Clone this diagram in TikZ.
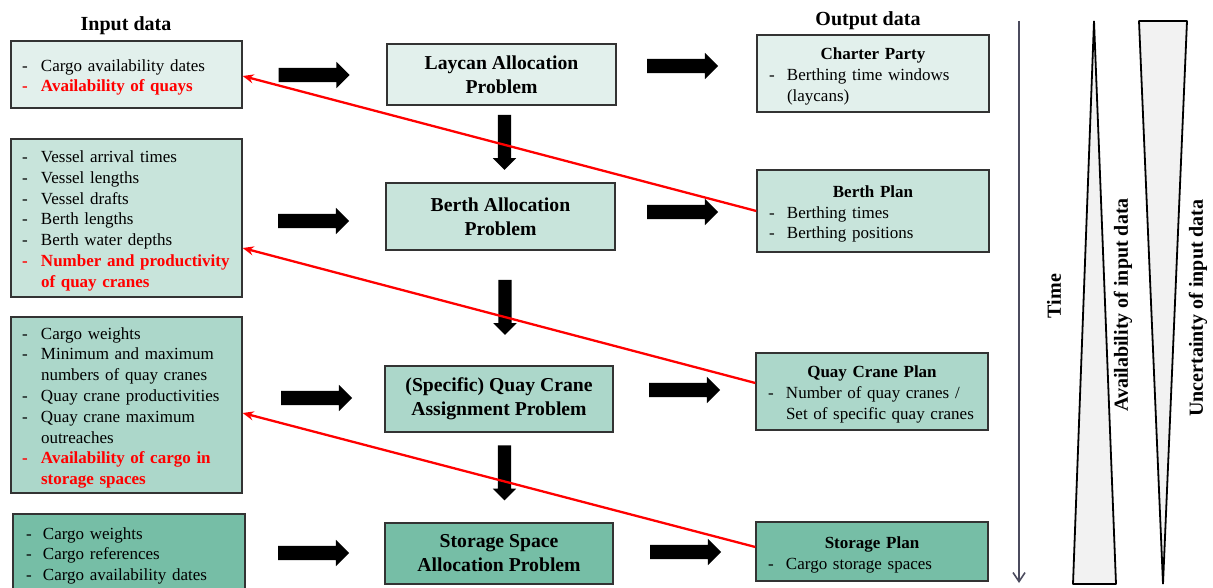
\documentclass[tikz,border=0pt]{standalone}
\usepackage{fontspec}
\setmainfont{Liberation Serif}
\usetikzlibrary{shapes.arrows,arrows.meta}
\definecolor{rowA}{HTML}{E2F0EC}
\definecolor{rowB}{HTML}{C8E4DB}
\definecolor{rowC}{HTML}{ACD7CA}
\definecolor{rowD}{HTML}{76BEA6}
\definecolor{boxline}{HTML}{333333}
\definecolor{timecol}{HTML}{4B4B5E}
\definecolor{trifill}{HTML}{F2F2F2}
\newlength{\dashw}
\setlength{\dashw}{19pt}
\newcommand{\dsh}[1]{\makebox[\dashw][l]{-}#1}
\newcommand{\cnt}[1]{\hspace*{\dashw}#1}
\newcommand{\rdsh}[1]{\textcolor{red}{\bfseries\makebox[\dashw][l]{-}#1}}
\newcommand{\rcnt}[1]{\textcolor{red}{\bfseries\hspace*{\dashw}#1}}
\tikzset{
  bodyfont/.style={font=\fontsize{17}{20.8}\selectfont},
  inbox/.style={draw=boxline, line width=1.3pt, rectangle, text width=209pt, inner xsep=11pt, inner ysep=0pt, align=left, bodyfont, execute at begin node={\rule{0pt}{17.6pt}}},
  probbox/.style={draw=boxline, line width=1.3pt, rectangle, minimum width=229pt, inner sep=0pt, align=center, font=\bfseries\fontsize{19.7}{24}\selectfont},
  outbox/.style={draw=boxline, line width=1.3pt, rectangle, text width=208pt, inner xsep=12pt, inner ysep=0pt, align=left, font=\fontsize{17}{20.8}\selectfont\setlength{\dashw}{18pt}, execute at begin node={\rule{0pt}{18pt}}},
  head/.style={font=\bfseries\fontsize{20}{24}\selectfont, inner sep=0pt},
  harrow/.style={single arrow, fill=black, draw=none, inner sep=0pt, minimum height=71pt, minimum width=26pt, single arrow head extend=6pt, single arrow tip angle=90},
  varrow/.style={single arrow, fill=black, draw=none, inner sep=0pt, minimum height=55pt, minimum width=23pt, single arrow head extend=5pt, single arrow tip angle=90, rotate=-90},
  redarrow/.style={draw=red, line width=2.3pt, -{Stealth[length=11pt,width=9pt]}},
  timeline/.style={draw=timecol, line width=1.6pt, -{Straight Barb[length=9pt,width=12pt]}},
  tri/.style={draw=black, fill=trifill, line width=1.8pt, line join=bevel},
  rot/.style={rotate=90, font=\bfseries\fontsize{20}{24}\selectfont, inner sep=0pt}
}
\newcommand{\hshaft}{\rule{0pt}{14pt}}
\newcommand{\vshaft}{\rule{0pt}{13pt}}
\begin{document}
\begin{tikzpicture}[x=1pt,y=-1pt]
\useasboundingbox (0,0) rectangle (1213,588);
\clip (0,0) rectangle (1213,588);

% headers
\node[head] (hin) at (126,25.5) {Input data};
\node[head] (hout) at (868,20.5) {Output data};

% input boxes
\node[inbox, fill=rowA, minimum height=67pt] (in1) at (126.5,74.5)
  {\dsh{Cargo availability dates}\\ \rdsh{Availability of quays}};
\node[inbox, fill=rowB, minimum height=158pt] (in2) at (126.5,218)
  {\dsh{Vessel arrival times}\\ \dsh{Vessel lengths}\\ \dsh{Vessel drafts}\\ \dsh{Berth lengths}\\ \dsh{Berth water depths}\\ \rdsh{Number and productivity}\\ \rcnt{of quay cranes}};
\node[inbox, fill=rowC, minimum height=176pt] (in3) at (126.5,405)
  {\dsh{Cargo weights}\\ \dsh{Minimum and maximum}\\ \cnt{numbers of quay cranes}\\ \dsh{Quay crane productivities}\\ \dsh{Quay crane maximum}\\ \cnt{outreaches}\\ \rdsh{Availability of cargo in}\\ \rcnt{storage spaces}};
\node[inbox, fill=rowD, minimum height=78pt, text width=206pt, inner xsep=13pt, font=\fontsize{17}{20.8}\selectfont\setlength{\dashw}{17pt}, execute at begin node={\rule{0pt}{15pt}}] (in4) at (129,553)
  {\dsh{Cargo weights}\\ \dsh{Cargo references}\\ \dsh{Cargo availability dates}};

% problem boxes
\node[probbox, fill=rowA, minimum height=61pt] (p1) at (501.5,74.5) {Laycan Allocation\\Problem};
\node[probbox, fill=rowB, minimum height=67pt] (p2) at (500.5,216.5) {Berth Allocation\\Problem};
\node[probbox, fill=rowC, minimum height=66pt, minimum width=228pt] (p3) at (499,399) {(Specific) Quay Crane\\Assignment Problem};
\node[probbox, fill=rowD, minimum height=61pt, minimum width=228pt] (p4) at (499,553.5) {Storage Space\\Allocation Problem};

% output boxes
\node[outbox, fill=rowA, minimum height=77pt] (cp) at (873,73.5)
  {\makebox[\linewidth][c]{\bfseries Charter Party}\\ \dsh{Berthing time windows}\\ \cnt{(laycans)}};
\node[outbox, fill=rowB, minimum height=82pt] (bp) at (873,211)
  {\makebox[\linewidth][c]{\bfseries Berth Plan}\\ \dsh{Berthing times}\\ \dsh{Berthing positions}};
\node[outbox, fill=rowC, minimum height=77pt] (qcp) at (872,391.5)
  {\makebox[\linewidth][c]{\bfseries Quay Crane Plan}\\ \dsh{Number of quay cranes /}\\ \cnt{Set of specific quay cranes}};
\node[outbox, fill=rowD, minimum height=59pt] (sp) at (872,551.5)
  {\makebox[\linewidth][c]{\bfseries Storage Plan}\\ \dsh{Cargo storage spaces}};

% block arrows input -> problem
\node[harrow] (la1) at (310.5,75) {\hshaft};
\node[harrow] (la2) at (310,221) {\hshaft};
\node[harrow] (la3) at (313,398) {\hshaft};
\node[harrow] (la4) at (310,553) {\hshaft};
% block arrows problem -> output
\node[harrow] (ra1) at (679,66) {\hshaft};
\node[harrow] (ra2) at (679,212) {\hshaft};
\node[harrow] (ra3) at (681,390) {\hshaft};
\node[harrow] (ra4) at (682,552) {\hshaft};
% block arrows down
\node[varrow] (da1) at (504.5,139) {\vshaft};
\node[varrow] (da2) at (505,304) {\vshaft};
\node[varrow] (da3) at (504.5,469.5) {\vshaft};

% red feedback arrows
\draw[redarrow] (bp.west) -- ([yshift=-1.5pt]in1.east);
\draw[redarrow] ([yshift=8.5pt]qcp.west) -- ([yshift=-30pt]in2.east);
\draw[redarrow] ([yshift=4.5pt]sp.west) -- ([yshift=-8pt]in3.east);

% time axis
\coordinate (t0) at (1019,21);
\coordinate (t1) at (1019,583);
\draw[timeline] (t0) -- (t1);
\node[rot] (tl) at (1054,296) {Time};

% triangles
\draw[tri] (1094,21) -- (1116,584) -- (1073,584) -- cycle;
\draw[tri] (1139,21) -- (1187,21) -- (1163,584) -- cycle;
\node[rot] (al) at (1123,305) {Availability of input data};
\node[rot] (ul) at (1198,308) {Uncertainty of input data};
\end{tikzpicture}
\end{document}
